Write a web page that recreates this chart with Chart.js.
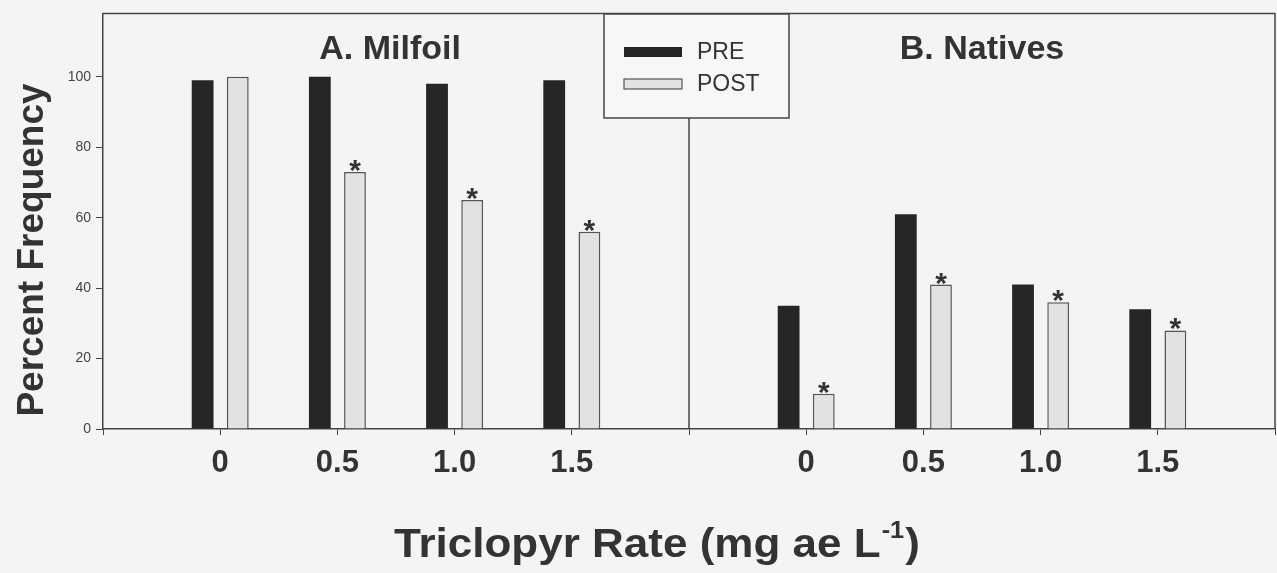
<!DOCTYPE html>
<html>
<head>
<meta charset="utf-8">
<script src="https://cdn.jsdelivr.net/npm/chart.js@4.4.1/dist/chart.umd.min.js"></script>
<style>
  body { margin: 0; background: #f4f4f2; }
  #wrap { width: 1277px; height: 573px; }
</style>
</head>
<body>
<div id="wrap"><canvas id="barChart" width="1277" height="573"></canvas></div>
<script>
const rates = ['0', '0.5', '1.0', '1.5'];
const milfoilPre = [99, 100, 98, 99];
const milfoilPost = [100, 73, 65, 56];
const milfoilStar = [false, true, true, true];
const nativesPre = [35, 61, 41, 34];
const nativesPost = [10, 41, 36, 28];
const nativesStar = [true, true, true, true];
const yTicks = [0, 20, 40, 60, 80, 100];
const panelNames = ['A. Milfoil', 'B. Natives'];

// two panels on one axis, empty slots at the edges and in the middle
const labels = ['', ...rates, '', ...rates, ''];
const preData = [null, ...milfoilPre, null, ...nativesPre, null];
const postData = [null, ...milfoilPost, null, ...nativesPost, null];
const stars = [false, ...milfoilStar, false, ...nativesStar, false];

const ink = '#333';
const fontName = '"Liberation Sans", Arial, sans-serif';

const decor = {
    id: 'decor',
    afterDraw(chart) {
        const c = chart.ctx;
        const a = chart.chartArea;
        const x = chart.scales.x;
        c.save();
        c.strokeStyle = '#444';
        c.lineWidth = 1.5;
        // top and right side of the box
        c.beginPath();
        c.moveTo(a.left, a.top);
        c.lineTo(a.right, a.top);
        c.lineTo(a.right, a.bottom);
        c.stroke();

        // legend box
        const lx = 604, ly = 14, lw = 185, lh = 104;
        c.fillStyle = '#f7f7f5';
        c.fillRect(lx, ly, lw, lh);
        c.strokeRect(lx, ly, lw, lh);
        c.fillStyle = '#262626';
        c.fillRect(lx + 20, ly + 33, 58, 10);
        c.fillStyle = '#e2e2e0';
        c.fillRect(lx + 20, ly + 65, 58, 10);
        c.lineWidth = 1.2;
        c.strokeStyle = '#555';
        c.strokeRect(lx + 20, ly + 65, 58, 10);
        c.fillStyle = ink;
        c.font = '23px ' + fontName;
        c.textAlign = 'left';
        c.textBaseline = 'alphabetic';
        c.fillText(chart.data.datasets[0].label, lx + 93, ly + 45);
        c.fillText(chart.data.datasets[1].label, lx + 93, ly + 77);

        // divider between panels, under the legend
        c.strokeStyle = '#444';
        c.lineWidth = 1.5;
        const dx = x.getPixelForValue(5);
        c.beginPath();
        c.moveTo(dx, ly + lh);
        c.lineTo(dx, a.bottom);
        c.stroke();

        // panel names
        c.font = 'bold 34px ' + fontName;
        c.textAlign = 'center';
        c.fillText(panelNames[0], x.getPixelForValue(2.45), 59);
        c.fillText(panelNames[1], x.getPixelForValue(7.5), 59);

        // significance marks over POST bars
        c.font = 'bold 30px ' + fontName;
        chart.getDatasetMeta(1).data.forEach((bar, i) => {
            if (stars[i]) c.fillText('*', bar.x, bar.y + 8);
        });

        // axis titles
        c.font = 'bold 37px ' + fontName;
        c.save();
        c.translate(43, 250);
        c.rotate(-Math.PI / 2);
        c.fillText('Percent Frequency', 0, 0);
        c.restore();

        // x title is set a little wide in the original
        c.save();
        c.translate(394, 557);
        c.scale(1.1, 1);
        c.textAlign = 'left';
        c.font = 'bold 40px ' + fontName;
        const t1 = 'Triclopyr Rate (mg ae L';
        let tx = 0;
        c.fillText(t1, tx, 0);
        tx += c.measureText(t1).width;
        c.font = 'bold 23px ' + fontName;
        c.fillText('-1', tx + 1, -19);
        tx += c.measureText('-1').width + 2;
        c.font = 'bold 40px ' + fontName;
        c.fillText(')', tx, 0);
        c.restore();
        c.restore();
    }
};

const ctx = document.getElementById('barChart').getContext('2d');
const barChart = new Chart(ctx, {
    type: 'bar',
    data: {
        labels: labels,
        datasets: [{
            label: 'PRE',
            data: preData,
            backgroundColor: '#262626',
            borderWidth: 0
        }, {
            label: 'POST',
            data: postData,
            backgroundColor: '#e2e2e0',
            borderColor: '#555',
            borderWidth: 1.5
        }]
    },
    options: {
        responsive: false,
        animation: false,
        categoryPercentage: 0.6,
        barPercentage: 0.62,
        layout: {
            padding: { top: 12, right: 2, left: 0, bottom: 0 }
        },
        plugins: {
            legend: { display: false },
            tooltip: { enabled: false }
        },
        scales: {
            x: {
                offset: false,
                grid: {
                    offset: false,
                    drawOnChartArea: false,
                    color: '#444',
                    tickLength: 6
                },
                border: { color: '#444', width: 1.5 },
                ticks: {
                    color: ink,
                    padding: 10,
                    maxRotation: 0,
                    autoSkip: false,
                    font: { family: fontName, size: 31, weight: 'bold', lineHeight: 1.2 }
                },
                afterFit: s => {
                    s.height = 144;
                    s.paddingLeft = 0;
                    s.paddingRight = 0;
                }
            },
            y: {
                min: 0,
                max: 118,
                afterBuildTicks: s => { s.ticks = yTicks.map(v => ({ value: v })); },
                grid: {
                    drawOnChartArea: false,
                    color: '#444',
                    tickLength: 7
                },
                border: { color: '#444', width: 1.5 },
                ticks: {
                    color: '#444',
                    padding: 5,
                    font: { family: fontName, size: 14 }
                },
                afterFit: s => { s.width = 103; }
            }
        }
    },
    plugins: [decor]
});
</script>
</body>
</html>
